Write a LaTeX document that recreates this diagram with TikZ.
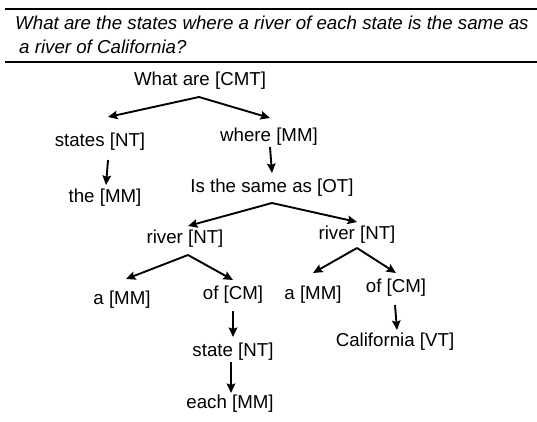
\documentclass[tikz,border=0pt]{standalone}
\usepackage{fontspec}
\setmainfont{Liberation Sans}
\usepackage{tikz}
\usetikzlibrary{arrows.meta}
\tikzstyle{word} = [inner sep=0pt, font=\fontsize{18.7}{22}\selectfont]
\tikzstyle{question} = [word, anchor=west, font=\fontsize{18.7}{22}\selectfont\itshape]
\tikzstyle{link} = [line width=1.9pt, -{Stealth[length=9.5pt,width=8.5pt,inset=1.5pt]}]
\tikzstyle{rule} = [line width=2pt]

\begin{document}
\begin{tikzpicture}[x = 1pt, y = -1pt]
	\useasboundingbox (0, 0) rectangle (537, 422) ;
	
	\draw[rule] (5, 9) -- (537, 9) ;
	\draw[rule] (5, 62) -- (537, 62) ;
	\node[question] (q1) at (15, 23) {What are the states where a river of each state is the same as} ;
	\node[question] (q2) at (19, 47) {a river of California?} ;
	
	\node[word] (what) at (200, 81) {What are [CMT]} ;
	\node[word] (states) at (100, 142) {states [NT]} ;
	\node[word] (where) at (269, 137) {where [MM]} ;
	\node[word] (the) at (105, 198) {the [MM]} ;
	\node[word] (same) at (272, 188) {Is the same as [OT]} ;
	\node[word] (riverL) at (185, 239) {river [NT]} ;
	\node[word] (riverR) at (357, 235) {river [NT]} ;
	\node[word] (aL) at (122, 300) {a [MM]} ;
	\node[word] (ofL) at (233, 295) {of [CM]} ;
	\node[word] (state) at (233, 352) {state [NT]} ;
	\node[word] (each) at (230, 404) {each [MM]} ;
	\node[word] (aR) at (313, 295) {a [MM]} ;
	\node[word] (ofR) at (396, 288) {of [CM]} ;
	\node[word] (calif) at (395, 342) {California [VT]} ;
	
	\draw[link] ([shift={(-1, 16)}]what.center) -- ([shift={(8, -25)}]states.center) ;
	\draw[link] ([shift={(-1, 16)}]what.center) -- ([shift={(1, -19)}]where.center) ;
	\draw[link] ([shift={(8, 18)}]states.center) -- ([shift={(1, -13)}]the.center) ;
	\draw[link] ([shift={(1, 10)}]where.center) -- ([shift={(0, -15)}]same.center) ;
	
	\draw[link] ([shift={(0, 15)}]same.center) -- ([shift={(3, -13)}]riverL.center) ;
	\draw[link] ([shift={(0, 15)}]same.center) -- ([shift={(0, -13)}]riverR.center) ;
	
	\draw[link] ([shift={(3, 16)}]riverL.center) -- ([shift={(4, -21)}]aL.center) ;
	\draw[link] ([shift={(3, 16)}]riverL.center) -- ([shift={(0, -15)}]ofL.center) ;
	\draw[link] ([shift={(0, 16)}]ofL.center) -- ([shift={(0, -15)}]state.center) ;
	\draw[link] ([shift={(-2, 10)}]state.center) -- ([shift={(1, -11)}]each.center) ;
	
	\draw[link] ([shift={(0, 13)}]riverR.center) -- ([shift={(0, -22)}]aR.center) ;
	\draw[link] ([shift={(0, 13)}]riverR.center) -- ([shift={(0, -15)}]ofR.center) ;
	\draw[link] ([shift={(-1, 17)}]ofR.center) -- ([shift={(2, -12)}]calif.center) ;
	
\end{tikzpicture}
\end{document}
